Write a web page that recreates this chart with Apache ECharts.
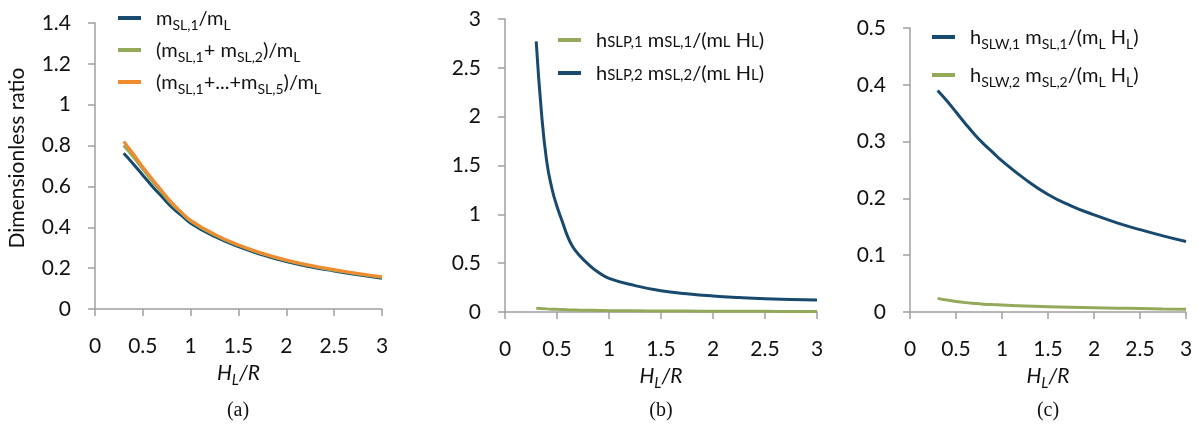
<!DOCTYPE html>
<html>
<head>
<meta charset="utf-8">
<script src="https://cdn.jsdelivr.net/npm/echarts@6/dist/echarts.min.js"></script>
<style>
  html, body { margin: 0; padding: 0; background: #fff; }
  #chart { width: 1199px; height: 432px; }
</style>
</head>
<body>
<div id="chart"></div>
<script>
// x positions (H_L/R)
var xs = [0.3, 0.4, 0.5, 0.6, 0.7, 0.8, 0.9, 1, 1.25, 1.5, 1.75, 2, 2.25, 2.5, 2.75, 3];
var xsSteep = [0.3, 0.35, 0.4, 0.45, 0.5, 0.55, 0.6, 0.65, 0.7, 0.8, 0.9, 1, 1.25, 1.5, 1.75, 2, 2.25, 2.5, 2.75, 3];

// panel (a)
var aSL1 = [0.762, 0.71, 0.655, 0.6, 0.55, 0.5, 0.46, 0.42, 0.355, 0.305, 0.265, 0.232, 0.207, 0.186, 0.167, 0.15];
var aSL12 = [0.8, 0.745, 0.685, 0.625, 0.57, 0.515, 0.472, 0.43, 0.363, 0.311, 0.27, 0.237, 0.211, 0.19, 0.171, 0.155];
var aSL15 = [0.82, 0.76, 0.695, 0.635, 0.578, 0.522, 0.476, 0.434, 0.366, 0.314, 0.273, 0.24, 0.214, 0.193, 0.174, 0.158];

// panel (b)
var bSLP1 = [0.038, 0.032, 0.027, 0.023, 0.02, 0.018, 0.016, 0.014, 0.012, 0.01, 0.009, 0.008, 0.007, 0.0065, 0.006, 0.0055];
var bSLP2 = [2.77, 2.05, 1.55, 1.27, 1.08, 0.93, 0.78, 0.67, 0.6, 0.49, 0.405, 0.345, 0.27, 0.218, 0.187, 0.164, 0.148, 0.136, 0.129, 0.123];

// panel (c)
var cSLW1 = [0.39, 0.372, 0.352, 0.332, 0.313, 0.296, 0.281, 0.266, 0.234, 0.207, 0.187, 0.171, 0.157, 0.145, 0.134, 0.124];
var cSLW2 = [0.024, 0.021, 0.0185, 0.0165, 0.015, 0.0138, 0.013, 0.0123, 0.0105, 0.0093, 0.0084, 0.0076, 0.0068, 0.0061, 0.0054, 0.0048];

var blue = "#174a6e";
var green = "#94aa5a";
var orange = "#f28a30";
var axisGray = "#a0a0a0";
var font = "Lato";

function pairs(x, y) {
  return x.map(function (v, i) { return [v, y[i]]; });
}

// legend labels as rich text
var legendText = {
  a1: "{n|m}{s|SL,1}{n|/m}{s|L}",
  a2: "{n|(m}{s|SL,1}{n|+ m}{s|SL,2}{n|)/m}{s|L}",
  a3: "{n|(m}{s|SL,1}{n|+...+m}{s|SL,5}{n|)/m}{s|L}",
  b1: "{n|h}{c|SLP,1}{n| m}{c|SL,1}{n|/(m}{c|L}{n| H}{c|L}{n|)}",
  b2: "{n|h}{c|SLP,2}{n| m}{c|SL,2}{n|/(m}{c|L}{n| H}{c|L}{n|)}",
  c1: "{n|h}{s|SLW,1}{n| m}{s|SL,1}{n|/(m}{s|L}{n| H}{s|L}{n|)}",
  c2: "{n|h}{s|SLW,2}{n| m}{s|SL,2}{n|/(m}{s|L}{n| H}{s|L}{n|)}",
};

// s = subscript (pushed down with top padding), c = small letters on the baseline
var rich = {
  n: { fontFamily: font, fontSize: 20, lineHeight: 22, color: "#111", verticalAlign: "bottom" },
  s: { fontFamily: font, fontSize: 14, lineHeight: 10, color: "#111", verticalAlign: "top", padding: [11, 0, 0, 0] },
  c: { fontFamily: font, fontSize: 15, lineHeight: 10, color: "#111", verticalAlign: "top", padding: [6, 0, 0, 0] },
};

function legend(names, left, top, gap) {
  return {
    data: names,
    orient: "vertical",
    left: left,
    top: top,
    itemWidth: 23,
    itemHeight: 4,
    itemGap: gap,
    icon: "rect",
    formatter: function (name) { return legendText[name]; },
    textStyle: { rich: rich, padding: [0, 0, 0, 10] },
  };
}

function grid(left, top, width, height) {
  return { left: left, top: top, width: width, height: height };
}

function xAxis(idx) {
  return {
    type: "value",
    gridIndex: idx,
    min: 0,
    max: 3,
    interval: 0.5,
    name: "{i|H}{u|L}{i|/R}",
    nameLocation: "middle",
    nameGap: 46,
    nameTextStyle: {
      rich: {
        i: { fontFamily: font, fontStyle: "italic", fontSize: 21, lineHeight: 22, color: "#111", verticalAlign: "bottom" },
        u: { fontFamily: font, fontStyle: "italic", fontSize: 15, lineHeight: 10, color: "#111", verticalAlign: "top", padding: [11, 0, 0, 0] },
      },
    },
    axisLine: { show: true, onZero: false, lineStyle: { color: axisGray, width: 1.5 } },
    axisTick: { show: true, length: 7, lineStyle: { color: axisGray, width: 1.5 } },
    axisLabel: { color: "#111", fontFamily: font, fontSize: 21, margin: 27 },
    splitLine: { show: false },
  };
}

function yAxis(idx, max, interval) {
  return {
    type: "value",
    gridIndex: idx,
    min: 0,
    max: max,
    interval: interval,
    axisLine: { show: true, lineStyle: { color: axisGray, width: 1.5 } },
    axisTick: { show: true, length: 7, lineStyle: { color: axisGray, width: 1.5 } },
    axisLabel: { color: "#111", fontFamily: font, fontSize: 21, margin: 24 },
    splitLine: { show: false },
  };
}

function line(name, idx, data, color) {
  return {
    name: name,
    type: "line",
    xAxisIndex: idx,
    yAxisIndex: idx,
    data: data,
    smooth: true,
    showSymbol: false,
    color: color,
    lineStyle: { color: color, width: 3 },
    animation: false,
  };
}

var myChart = echarts.init(document.getElementById("chart"));
var option = {
  backgroundColor: "#fff",
  animation: false,
  grid: [grid(95, 23, 287, 286), grid(505, 19, 312, 293), grid(910, 28, 276, 284)],
  xAxis: [xAxis(0), xAxis(1), xAxis(2)],
  yAxis: [yAxis(0, 1.4, 0.2), yAxis(1, 3, 0.5), yAxis(2, 0.5, 0.1)],
  legend: [
    legend(["a1", "a2", "a3"], 113, 2, 7),
    legend(["b1", "b2"], 553, 24, 11),
    legend(["c1", "c2"], 927, 21, 13),
  ],
  series: [
    line("a1", 0, pairs(xs, aSL1), blue),
    line("a2", 0, pairs(xs, aSL12), green),
    line("a3", 0, pairs(xs, aSL15), orange),
    line("b1", 1, pairs(xs, bSLP1), green),
    line("b2", 1, pairs(xsSteep, bSLP2), blue),
    line("c1", 2, pairs(xs, cSLW1), blue),
    line("c2", 2, pairs(xs, cSLW2), green),
  ],
  graphic: [
    {
      type: "text",
      x: 17,
      y: 158,
      rotation: Math.PI / 2,
      style: { text: "Dimensionless ratio", fontFamily: font, fontSize: 21, fill: "#111", align: "center", verticalAlign: "middle" },
    },
    { type: "text", x: 238, y: 411, style: { text: "(a)", fontFamily: "Liberation Serif", fontSize: 20, fill: "#111", align: "center", verticalAlign: "middle" } },
    { type: "text", x: 661, y: 411, style: { text: "(b)", fontFamily: "Liberation Serif", fontSize: 20, fill: "#111", align: "center", verticalAlign: "middle" } },
    { type: "text", x: 1048, y: 411, style: { text: "(c)", fontFamily: "Liberation Serif", fontSize: 20, fill: "#111", align: "center", verticalAlign: "middle" } },
  ],
};
myChart.setOption(option);
</script>
</body>
</html>
